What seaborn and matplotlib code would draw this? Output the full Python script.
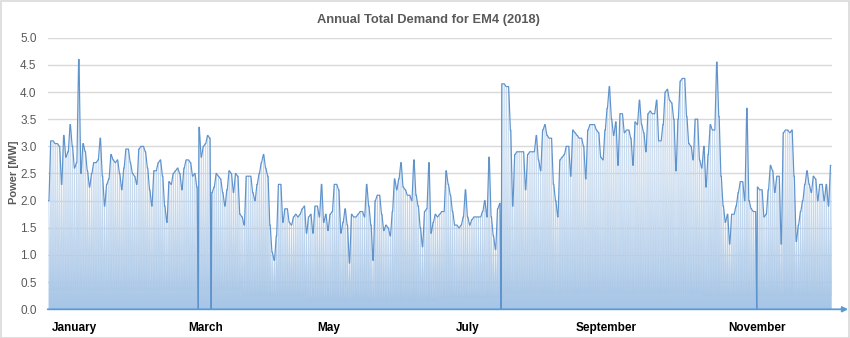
import numpy as np
import pandas as pd
import matplotlib
matplotlib.use("Agg")
import matplotlib.pyplot as plt
import seaborn as sns
from matplotlib.colors import LinearSegmentedColormap
from matplotlib.patches import Rectangle

# ---------------- data (daily peak demand, MW) ----------------
peak_jan = [2.0, 3.1, 3.1, 3.05, 3.05, 3.0, 2.3, 3.2, 2.8, 2.9, 3.4, 3.0, 2.6, 2.7, 4.6, 2.5,
            3.05, 2.9, 2.55, 2.25, 2.5, 2.7, 2.7, 2.75, 3.15, 2.45, 1.9, 2.3, 2.4, 2.85, 2.75]
peak_feb = [2.7, 2.75, 2.5, 2.2, 2.6, 2.95, 2.95, 2.7, 2.5, 2.45, 2.3, 2.95, 3.0, 3.0, 2.9, 2.6,
            2.2, 1.9, 2.55, 2.55, 2.7, 2.75, 2.45, 1.9, 1.6, 2.35, 2.3, 2.5]
peak_mar = [2.55, 2.6, 2.5, 2.2, 2.6, 2.75, 2.75, 2.7, 2.45, 2.5, 2.25, 3.35, 2.8, 3.0, 3.05, 3.2,
            3.15, 2.15, 2.25, 2.5, 2.45, 2.4, 2.15, 1.9, 2.2, 2.55, 2.5, 2.15, 2.5, 2.45, 1.75]
peak_apr = [1.7, 1.55, 2.45, 2.45, 2.45, 2.15, 2.0, 2.3, 2.5, 2.7, 2.85, 2.6, 2.45, 1.55, 1.05,
            0.9, 1.35, 2.3, 2.3, 1.6, 1.85, 1.85, 1.6, 1.55, 1.7, 1.75, 1.7, 1.75, 1.85, 1.9]
peak_may = [1.4, 1.7, 1.75, 1.4, 1.9, 1.9, 1.7, 2.3, 1.6, 1.75, 1.45, 1.75, 1.8, 2.3, 2.3, 2.2,
            1.4, 1.6, 1.85, 1.55, 0.85, 1.75, 1.7, 1.7, 1.75, 1.8, 1.8, 1.7, 2.3, 1.9, 1.55]
peak_jun = [0.9, 2.0, 2.1, 2.1, 1.75, 1.45, 1.55, 1.5, 1.35, 1.8, 2.4, 2.2, 2.4, 2.7, 2.25, 2.2,
            2.1, 2.1, 2.0, 2.75, 2.1, 1.9, 1.5, 1.15, 1.8, 1.85, 2.7, 1.4, 1.6, 1.75]
peak_jul = [1.7, 1.75, 1.8, 1.8, 2.55, 2.3, 2.1, 1.8, 1.55, 1.55, 1.5, 1.55, 1.7, 2.2, 1.7, 1.55,
            1.65, 1.7, 1.7, 1.7, 1.7, 1.8, 2.0, 1.7, 2.8, 1.7, 1.35, 1.1, 1.85, 1.95, 4.15]
peak_aug = [4.15, 4.1, 4.1, 3.3, 1.9, 2.85, 2.9, 2.9, 2.9, 2.9, 2.2, 2.85, 2.9, 2.9, 2.9, 3.2,
            2.75, 2.55, 3.3, 3.4, 3.2, 3.15, 3.15, 2.3, 2.0, 1.7, 2.75, 2.8, 2.85, 3.0, 3.0]
peak_sep = [2.45, 3.3, 3.25, 3.2, 3.15, 3.15, 3.0, 2.4, 3.3, 3.4, 3.4, 3.4, 3.3, 3.25, 2.8, 2.75,
            3.3, 3.7, 4.1, 3.5, 3.2, 3.45, 2.65, 3.6, 3.6, 3.25, 3.3, 3.3, 3.15, 2.65]
peak_oct = [3.45, 3.4, 3.85, 3.4, 3.25, 2.9, 3.6, 3.65, 3.6, 3.6, 3.85, 3.1, 3.1, 3.4, 4.0, 4.05,
            3.85, 3.8, 3.5, 2.55, 3.5, 4.2, 4.25, 4.25, 3.55, 3.05, 3.0, 2.75, 3.5, 3.5, 2.75]
peak_nov = [2.6, 3.0, 2.25, 2.85, 3.4, 3.3, 3.3, 4.55, 3.55, 2.45, 1.9, 1.6, 1.75, 1.2, 1.75, 1.75,
            1.9, 2.15, 2.35, 2.35, 2.0, 3.7, 2.0, 1.85, 1.8, 1.8, 2.25, 2.2, 2.2, 1.7]
peak_dec = [1.75, 2.2, 2.65, 2.55, 2.15, 2.45, 2.45, 1.2, 3.25, 3.3, 3.3, 3.25, 3.3, 2.45, 1.25,
            1.55, 1.8, 2.0, 2.3, 2.55, 2.3, 2.15, 2.45, 2.4, 2.0, 2.3, 2.3, 2.0, 2.3, 1.9, 2.65]

# typical night-time (base) load per month, MW
night_low = [0.35, 0.35, 0.35, 0.25, 0.15, 0.15, 0.2, 0.3, 0.3, 0.3, 0.25, 0.25]
# days (0-based) where the meter dropped to zero
outage_days = [70, 76, 211, 330]

month_labels = ["January", "March", "May", "July", "September", "November"]
label_days = [12.5, 73.7, 130.7, 195.4, 259.9, 330.2]
y_ticks = [0.0, 0.5, 1.0, 1.5, 2.0, 2.5, 3.0, 3.5, 4.0, 4.5, 5.0]

# ---------------- build the series ----------------
peaks_by_month = [peak_jan, peak_feb, peak_mar, peak_apr, peak_may, peak_jun,
                  peak_jul, peak_aug, peak_sep, peak_oct, peak_nov, peak_dec]
daily_peak = np.concatenate([np.array(p, float) for p in peaks_by_month])
daily_low = np.repeat(night_low, [len(p) for p in peaks_by_month])
n_days = len(daily_peak)

t, y, kind = [], [], []
for d in range(n_days):
    pk, lo = daily_peak[d], daily_low[d]
    if d in outage_days:
        t += [d + 0.05, d + 0.15]
        y += [0.0, 0.0]
        kind += ["outage", "outage"]
    t += [d + 0.40, d + 0.60, d + 1.0]
    y += [pk, pk, lo]
    kind += ["peak", "peak", "night"]
df = pd.DataFrame({"t": t, "power": y, "kind": kind})
env = df[df["kind"] != "night"]

# ---------------- figure ----------------
sns.set_theme(style="white")
plt.rcParams["font.family"] = ["Liberation Sans", "DejaVu Sans"]

fig = plt.figure(figsize=(8.5, 3.38), dpi=100)
ax = fig.add_axes([0.0561, 0.0849, 0.9224, 0.8036])
ax.set_xlim(0, 365)
ax.set_ylim(0, 5.0)

# gridlines
for v in y_ticks[1:]:
    ax.axhline(v, color="#d9d9d9", lw=1.0, zorder=0)

# gradient area fill clipped to the series
poly = ax.fill_between(df["t"], df["power"], 0, facecolor="none", edgecolor="none")
cmap = LinearSegmentedColormap.from_list(
    "g", [(0.0, "#a7c5e6"), (0.3, "#cddff2"), (0.55, "#edf3fa"), (1.0, "#ffffff")])
grad = np.linspace(0, 1, 256).reshape(-1, 1)
im = ax.imshow(grad, extent=(0, 365, 0, 5.0), origin="lower", aspect="auto",
               cmap=cmap, zorder=1, interpolation="bicubic")
im.set_clip_path(poly.get_paths()[0], transform=ax.transData)

# faint full hourly-style line
ax.plot(df["t"], df["power"], color="#9dbfe3", lw=0.45, alpha=0.5, zorder=2)

# top outline of the demand curve
sns.lineplot(data=env, x="t", y="power", estimator=None, sort=False, ax=ax,
             color="#5f93cc", lw=0.85, zorder=3)

# axis styling
for s in ax.spines.values():
    s.set_visible(False)
ax.set_yticks(y_ticks)
ax.set_yticklabels([f"{v:.1f}" for v in y_ticks], fontsize=8.5, color="#595959")
ax.set_xticks(label_days)
ax.set_xticklabels(month_labels, fontsize=8.5, fontweight="bold", color="#000000")
ax.tick_params(axis="y", length=0, pad=8)
ax.tick_params(axis="x", length=0, pad=9)
ax.set_xlabel("")
ax.set_ylabel("")

# x axis line with arrow
ax.annotate("", xy=(1.021, 0), xytext=(0, 0), xycoords="axes fraction",
            textcoords="axes fraction",
            arrowprops=dict(arrowstyle="-|>", color="#5b9bd5", lw=1.3,
                            mutation_scale=8, shrinkA=0, shrinkB=0),
            annotation_clip=False, zorder=5)

fig.text(0.5035, 0.941, "Annual Total Demand for EM4 (2018)", ha="center", va="center",
         fontsize=9.3, fontweight="bold", color="#595959")
fig.text(0.0165, 0.49, "Power [MW]", rotation=90, ha="center", va="center",
         fontsize=8, fontweight="bold", color="#595959")

fig.add_artist(Rectangle((0.001, 0.001), 0.998, 0.997, transform=fig.transFigure,
                         fill=False, edgecolor="#d9d9d9", lw=1.2))

fig.savefig("out.png", dpi=100)
